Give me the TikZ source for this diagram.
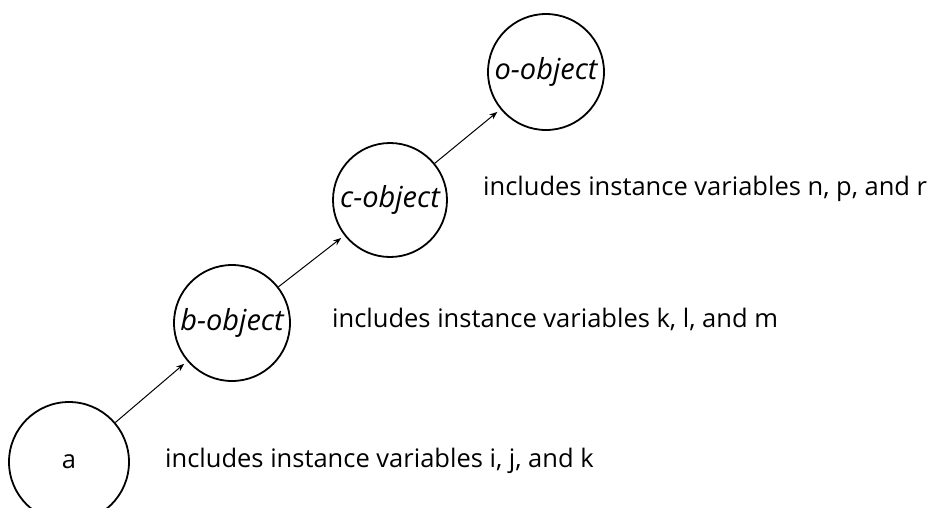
\documentclass[tikz,border=0pt]{standalone}
\usepackage{fontspec}
\setmainfont{Open Sans}
\usetikzlibrary{arrows.meta}
\tikzset{
  obj/.style={draw, circle, line width=1.8pt, inner sep=0pt, font=\itshape\fontsize{29}{32}\selectfont},
  note/.style={anchor=base west, inner sep=0pt, font=\fontsize{25.5}{30}\selectfont},
  link/.style={line width=1pt, -{Stealth[length=8pt,width=6pt]}, shorten >=4pt},
}

\begin{document}
\begin{tikzpicture}[x=1pt,y=-1pt]
\useasboundingbox (0,0) rectangle (946,507);
\node[obj, minimum size=120pt, font=\fontsize{25.5}{30}\selectfont] (a) at (69,462) {a};
\node[obj, minimum size=116pt] (bobj) at (232,323) {b-object};
\node[obj, minimum size=114pt] (cobj) at (390,200) {c-object};
\node[obj, minimum size=116pt] (oobj) at (546,72) {o-object};
\draw[link] (a) -- (bobj);
\draw[link] (bobj) -- (cobj);
\draw[link] (cobj) -- (oobj);
\node[note] (anote) at (165,467) {includes instance variables i, j, and k};
\node[note] (bnote) at (332,327) {includes instance variables k, l, and m};
\node[note] (cnote) at (483,195) {includes instance variables n, p, and r};
\end{tikzpicture}
\end{document}
